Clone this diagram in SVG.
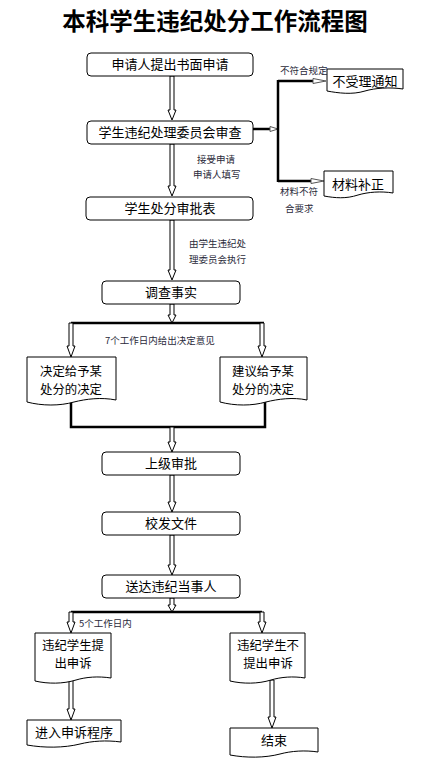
<svg xmlns="http://www.w3.org/2000/svg" width="428" height="763" viewBox="0 0 428 763">
<style>
text{font-family:"Noto Sans CJK SC","Liberation Sans",sans-serif;fill:#000}
.t{font-size:23.5px;font-weight:bold;text-anchor:middle}
.b{font-size:13px;text-anchor:middle}
.b2{font-size:12.4px;text-anchor:middle}
.s{font-size:9.5px;fill:#2a2a3a}
.box{fill:#fff;stroke:#000;stroke-width:1}
.doc{fill:#fff;stroke:#000;stroke-width:1}
.ar{fill:#fff;stroke:#000;stroke-width:1}
.th{fill:none;stroke:#000;stroke-width:2.5}
.ah{fill:#fff;stroke:#555;stroke-width:1}
</style>
<rect width="428" height="763" fill="#fff"/>
<text class="t" x="215" y="30">本科学生违纪处分工作流程图</text>

<g id="connectors">
  <polygon class="ar" points="170,76 174,76 174,110 176,110 172,120 168,110 170,110"/>
  <polygon class="ar" points="170,144 174,144 174,186 176,186 172,196 168,186 170,186"/>
  <polygon class="ar" points="170,220 174,220 174,270 176,270 172,280 168,270 170,270"/>
  <polygon class="ar" points="170,304 174,304 174,315 176,315 172,323 168,315 170,315"/>
  <path class="th" d="M71,323 H264"/>
  <polygon class="ar" points="69,323 73,323 73,346 75,346 71,357 67,346 69,346"/>
  <polygon class="ar" points="260,323 264,323 264,346 266,346 262,357 258,346 260,346"/>
  <path class="th" d="M71,401 V427 H265 V401"/>
  <polygon class="ar" points="170,427 174,427 174,442 176,442 172,452 168,442 170,442"/>
  <polygon class="ar" points="170,475 174,475 174,502 176,502 172,512 168,502 170,502"/>
  <polygon class="ar" points="170,535 174,535 174,565 176,565 172,575 168,565 170,565"/>
  <polygon class="ar" points="170,598 174,598 174,605 176,605 172,612 168,605 170,605"/>
  <path class="th" d="M71,612 H262"/>
  <polygon class="ar" points="69,612 73,612 73,622 75,622 71,633 67,622 69,622"/>
  <polygon class="ar" points="260,612 264,612 264,622 266,622 262,633 258,622 260,622"/>
  <polygon class="ar" points="69,680 73,680 73,709 75,709 71,720 67,709 69,709"/>
  <polygon class="ar" points="270,680 274,680 274,717 276,717 272,728 268,717 270,717"/>
  <path class="th" d="M253,129 H272"/>
  <polygon class="ah" points="270,126.5 278,129 270,131.5"/>
  <path class="th" d="M278,80 V182"/>
  <path class="th" d="M278,81 H315"/>
  <polygon class="ah" points="313,78.5 326,81 313,83.5"/>
  <path class="th" d="M278,181 H313"/>
  <polygon class="ah" points="311,178.5 324,181 311,183.5"/>
  <text class="s" x="280" y="74">不符合规定</text>
  <text class="s" x="197" y="163">接受申请</text>
  <text class="s" x="193" y="178">申请人填写</text>
  <text class="s" x="280" y="195">材料不符</text>
  <text class="s" x="285" y="212">合要求</text>
  <text class="s" x="189" y="247">由学生违纪处</text>
  <text class="s" x="189" y="263">理委员会执行</text>
  <text class="s" x="105" y="344">7个工作日内给出决定意见</text>
  <text class="s" x="79" y="627">5个工作日内</text>
</g>

<g id="n1"><rect class="box" x="87" y="53" width="166" height="23" rx="4"/><text class="b" x="170" y="69">申请人提出书面申请</text></g>
<g id="n2"><rect class="box" x="87" y="121" width="166" height="23" rx="4"/><text class="b" x="170" y="137">学生违纪处理委员会审查</text></g>
<g id="n3"><rect class="box" x="86" y="197" width="167" height="23" rx="4"/><text class="b" x="170" y="213">学生处分审批表</text></g>
<g id="n4"><rect class="box" x="102" y="281" width="138" height="23" rx="4"/><text class="b" x="171" y="297">调查事实</text></g>
<g id="n5"><path class="doc" d="M327,69 H403 V89 C390,87 375,88 365,91 C352,95 338,93 327,91 Z"/><text class="b" x="365" y="86">不受理通知</text></g>
<g id="n6"><path class="doc" d="M324,171 H393 V193 C381,191 368,192 358,195 C346,199 335,198 324,196 Z"/><text class="b" x="358" y="189">材料补正</text></g>
<g id="n7"><path class="doc" d="M27,357 H116 V400 C101,397 86,399 74,402 C60,406 42,406 27,402 Z"/><text class="b2" x="71" y="376">决定给予某</text><text class="b2" x="71" y="394">处分的决定</text></g>
<g id="n8"><path class="doc" d="M220,357 H307 V400 C293,397 278,399 266,402 C252,406 235,406 220,402 Z"/><text class="b2" x="263" y="376">建议给予某</text><text class="b2" x="263" y="394">处分的决定</text></g>
<g id="n9"><rect class="box" x="102" y="452" width="138" height="23" rx="4"/><text class="b" x="171" y="468">上级审批</text></g>
<g id="n10"><rect class="box" x="102" y="512" width="138" height="23" rx="4"/><text class="b" x="171" y="528">校发文件</text></g>
<g id="n11"><rect class="box" x="102" y="575" width="138" height="23" rx="4"/><text class="b" x="171" y="591">送达违纪当事人</text></g>
<g id="n12"><path class="doc" d="M35,633 H111 V678 C98,676 86,677 76,680 C63,684 48,684 35,681 Z"/><text class="b2" x="73" y="650">违纪学生提</text><text class="b2" x="73" y="668">出申诉</text></g>
<g id="n13"><path class="doc" d="M230,633 H305 V678 C293,676 281,677 271,680 C258,684 243,684 230,681 Z"/><text class="b2" x="268" y="650">违纪学生不</text><text class="b2" x="268" y="668">提出申诉</text></g>
<g id="n14"><path class="doc" d="M27,720 H121 V742 C106,740 92,741 80,744 C64,748 44,748 27,745 Z"/><text class="b" x="74" y="737">进入申诉程序</text></g>
<g id="n15"><path class="doc" d="M230,728 H318 V752 C305,750 291,751 280,754 C265,758 246,758 230,755 Z"/><text class="b" x="274" y="745">结束</text></g>
</svg>
